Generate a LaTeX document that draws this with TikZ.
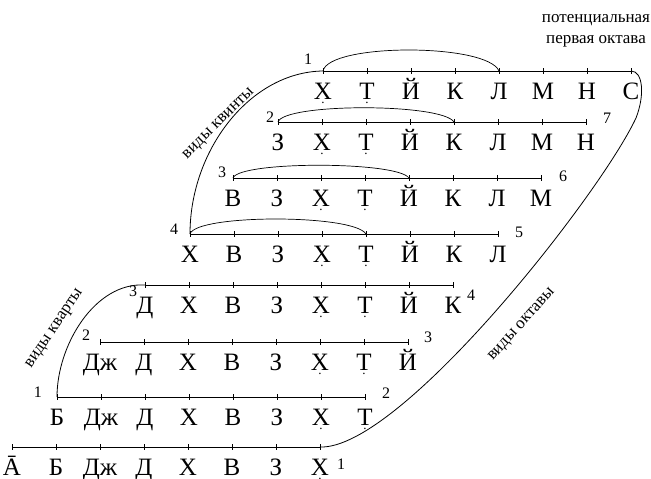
\documentclass[tikz,border=0pt]{standalone}
\usepackage{fontspec}
\setmainfont{Liberation Serif}
\usetikzlibrary{positioning, calc}
\tikzset{
  note/.style={
    font=\fontsize{25}{28}\selectfont,
    inner sep=0pt,
    anchor=base,
  },
  num/.style={
    font=\fontsize{16}{18}\selectfont,
    inner sep=0pt,
  },
  caption/.style={
    font=\fontsize{17}{21}\selectfont,
    inner sep=0pt,
  },
  scaleline/.style={
    line width=0.7pt,
  },
  notch/.style={
    line width=0.6pt,
  },
  bow/.style={
    line width=0.7pt,
  },
  bracket/.style={
    line width=0.8pt,
  },
}
\newcommand{\dotletter}[1]{\leavevmode\hbox{\ooalign{#1\cr\hidewidth\raisebox{-3.5pt}{\fontsize{13}{13}\selectfont.}\hidewidth\cr}}}
\newcommand{\Xd}{\dotletter{Х}}
\newcommand{\Td}{\dotletter{Т}}

\begin{document}
\begin{tikzpicture}[x=1pt,y=-1pt]
  \useasboundingbox (0,0) rectangle (651,479);

  % rows: row / first x / line y / letters
  \foreach \row/\xs/\yl/\letters in {
      0/12/447/{Ā,Б,Дж,Д,Х,В,З,\Xd},
      1/57/397/{Б,Дж,Д,Х,В,З,\Xd,\Td},
      2/100/342/{Дж,Д,Х,В,З,\Xd,\Td,Й},
      3/145/285/{Д,Х,В,З,\Xd,\Td,Й,К},
      4/190/234/{Х,В,З,\Xd,\Td,Й,К,Л},
      5/233/178/{В,З,\Xd,\Td,Й,К,Л,М},
      6/278/122/{З,\Xd,\Td,Й,К,Л,М,Н},
      7/323/71/{\Xd,\Td,Й,К,Л,М,Н,С}}{
    \foreach \ch [count=\i from 0] in \letters {
      \coordinate (t\row-\i) at (\xs+44*\i,\yl);
      \node[note] (n\row-\i) at (\xs+44*\i,\yl+28.5) {\ch};
      \draw[notch] (t\row-\i) ++(0,-3) -- ++(0,6);
    }
    \draw[scaleline] (t\row-0) -- (t\row-7);
  }

  % bows over the fifths
  \foreach \row/\h in {7/28,6/19,5/17,4/20}
    \draw[bow] (t\row-0) .. controls ($(t\row-0)+(6,-\h)$)
      and ($(t\row-4)+(-12,-\h)$) .. (t\row-4);

  % numbers
  \node[num] (l7) at ($(t7-0)+(-15,-12)$) {1};
  \node[num] (l6) at ($(t6-0)+(-8,-5)$) {2};
  \node[num] (l5) at ($(t5-0)+(-11,-6)$) {3};
  \node[num] (l4) at ($(t4-0)+(-16,-5)$) {4};
  \node[num] (l3) at ($(t3-0)+(-12,6)$) {3};
  \node[num] (l2) at ($(t2-0)+(-14,-7)$) {2};
  \node[num] (l1) at ($(t1-0)+(-19,-5)$) {1};
  \node[num] (r6) at ($(t6-7)+(21,-4)$) {7};
  \node[num] (r5) at ($(t5-7)+(22,-2)$) {6};
  \node[num] (r4) at ($(t4-7)+(21,-2)$) {5};
  \node[num] (r3) at ($(t3-7)+(18,10)$) {4};
  \node[num] (r2) at ($(t2-7)+(20,-5)$) {3};
  \node[num] (r1) at ($(t1-7)+(21,-4)$) {2};
  \node[num] (r0) at ($(t0-7)+(21,17)$) {1};

  % brackets
  \draw[bracket] (t7-0) .. controls (250,72) and (190,150) .. (t4-0);
  \draw[bracket] (t3-0) .. controls (95,282) and (57,345) .. (t1-0);
  \draw[bracket] (t7-7) .. controls (643,71) and (645,95) .. (636,118)
    .. controls (600,195) and (400,450) .. (t0-7);

  % captions
  \node[caption, rotate=45] (quint) at (219,124) {виды квинты};
  \node[caption, rotate=56] (quart) at (55,329) {виды кварты};
  \node[caption, rotate=48] (oct) at (522,325) {виды октавы};
  \node[caption, align=center] (pot) at (596,31) {потенциальная\\первая октава};
\end{tikzpicture}
\end{document}
